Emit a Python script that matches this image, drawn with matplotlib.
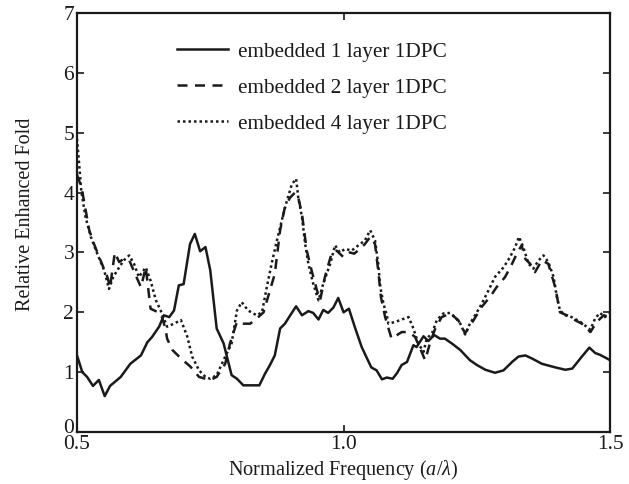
import matplotlib
matplotlib.use("Agg")
import matplotlib.pyplot as plt
import matplotlib.transforms as mtransforms

plt.rcParams["font.family"] = ["Liberation Serif", "DejaVu Serif"]
plt.rcParams["mathtext.fontset"] = "custom"
plt.rcParams["mathtext.it"] = "Liberation Serif:italic"
plt.rcParams["mathtext.rm"] = "Liberation Serif"

# ── data ──────────────────────────────────────────────────────────
freq_1 = [0.500, 0.510, 0.519, 0.530, 0.541, 0.552, 0.562, 0.582, 0.591, 0.600,
          0.620, 0.632, 0.641, 0.654, 0.663, 0.673, 0.682, 0.691, 0.700, 0.712,
          0.721, 0.731, 0.741, 0.750, 0.762, 0.775, 0.790, 0.800, 0.812, 0.842,
          0.853, 0.862, 0.871, 0.881, 0.890, 0.900, 0.911, 0.922, 0.934, 0.943,
          0.953, 0.962, 0.971, 0.981, 0.990, 1.000, 1.010, 1.022, 1.034, 1.044,
          1.052, 1.062, 1.072, 1.081, 1.092, 1.100, 1.109, 1.119, 1.131, 1.137,
          1.150, 1.159, 1.170, 1.181, 1.190, 1.203, 1.219, 1.237, 1.250, 1.266,
          1.284, 1.300, 1.316, 1.328, 1.341, 1.353, 1.372, 1.397, 1.416, 1.429,
          1.447, 1.461, 1.472, 1.481, 1.500]
fold_1 = [1.28, 1.00, 0.92, 0.77, 0.87, 0.60, 0.77, 0.92, 1.03, 1.14,
          1.28, 1.50, 1.59, 1.76, 1.95, 1.92, 2.03, 2.45, 2.47, 3.14,
          3.31, 3.02, 3.09, 2.70, 1.73, 1.48, 0.95, 0.89, 0.78, 0.78,
          0.98, 1.12, 1.28, 1.73, 1.81, 1.95, 2.10, 1.95, 2.02, 1.99,
          1.88, 2.04, 1.99, 2.08, 2.24, 2.00, 2.06, 1.73, 1.42, 1.23,
          1.08, 1.03, 0.88, 0.91, 0.89, 0.98, 1.12, 1.17, 1.45, 1.42,
          1.60, 1.52, 1.62, 1.56, 1.56, 1.48, 1.37, 1.20, 1.12, 1.04,
          0.99, 1.03, 1.17, 1.26, 1.28, 1.23, 1.14, 1.08, 1.04, 1.06,
          1.26, 1.41, 1.32, 1.29, 1.20]

freq_2 = [0.500, 0.508, 0.513, 0.523, 0.532, 0.544, 0.557, 0.562, 0.571, 0.579,
          0.587, 0.598, 0.610, 0.620, 0.629, 0.638, 0.657, 0.666, 0.669, 0.679,
          0.695, 0.713, 0.729, 0.741, 0.750, 0.762, 0.778, 0.787, 0.800, 0.812,
          0.825, 0.840, 0.850, 0.862, 0.871, 0.881, 0.890, 0.900, 0.909, 0.915,
          0.922, 0.931, 0.940, 0.950, 0.956, 0.965, 0.978, 0.987, 1.000, 1.012,
          1.020, 1.031, 1.040, 1.050, 1.059, 1.065, 1.070, 1.078, 1.090, 1.109,
          1.122, 1.134, 1.144, 1.153, 1.162, 1.172, 1.184, 1.200, 1.215, 1.228,
          1.244, 1.259, 1.275, 1.287, 1.303, 1.316, 1.325, 1.334, 1.341, 1.350,
          1.359, 1.372, 1.384, 1.397, 1.406, 1.419, 1.434, 1.447, 1.463, 1.475,
          1.488, 1.500]
fold_2 = [4.30, 4.10, 3.87, 3.37, 3.14, 2.87, 2.59, 2.42, 3.00, 2.84,
          2.89, 2.87, 2.62, 2.42, 2.75, 2.06, 1.98, 1.73, 1.56, 1.37,
          1.23, 1.09, 0.92, 0.89, 0.87, 0.92, 1.14, 1.48, 1.84, 1.81,
          1.81, 1.92, 2.00, 2.37, 2.64, 3.37, 3.76, 3.92, 4.00, 3.92,
          3.64, 3.03, 2.70, 2.37, 2.20, 2.59, 3.00, 3.03, 2.92, 3.00,
          2.98, 3.06, 3.14, 3.26, 3.14, 2.70, 2.26, 1.92, 1.56, 1.67,
          1.67, 1.59, 1.39, 1.20, 1.48, 1.73, 1.92, 1.98, 1.87, 1.65,
          1.87, 2.09, 2.26, 2.42, 2.59, 2.81, 2.98, 3.12, 2.89, 2.81,
          2.67, 2.87, 2.81, 2.42, 2.00, 1.95, 1.87, 1.81, 1.67, 1.84,
          1.95, 1.92]

freq_4 = [0.500, 0.504, 0.508, 0.516, 0.526, 0.538, 0.551, 0.560, 0.568, 0.579,
          0.588, 0.598, 0.607, 0.616, 0.629, 0.638, 0.648, 0.657, 0.669, 0.682,
          0.695, 0.707, 0.716, 0.729, 0.741, 0.750, 0.762, 0.778, 0.790, 0.800,
          0.809, 0.821, 0.837, 0.847, 0.856, 0.865, 0.875, 0.884, 0.893, 0.903,
          0.911, 0.915, 0.922, 0.928, 0.934, 0.943, 0.953, 0.962, 0.975, 0.984,
          0.993, 1.003, 1.015, 1.028, 1.040, 1.050, 1.059, 1.065, 1.069, 1.075,
          1.081, 1.084, 1.097, 1.109, 1.122, 1.131, 1.140, 1.150, 1.156, 1.166,
          1.175, 1.187, 1.200, 1.209, 1.219, 1.228, 1.237, 1.250, 1.259, 1.272,
          1.284, 1.300, 1.312, 1.322, 1.329, 1.337, 1.347, 1.356, 1.366, 1.375,
          1.384, 1.394, 1.400, 1.406, 1.416, 1.428, 1.444, 1.463, 1.472, 1.481,
          1.490, 1.500]
fold_4 = [4.90, 4.48, 4.03, 3.59, 3.26, 2.98, 2.70, 2.39, 2.59, 2.75,
          2.87, 2.95, 2.81, 2.59, 2.75, 2.53, 2.20, 2.03, 1.76, 1.81,
          1.87, 1.59, 1.26, 1.03, 0.92, 0.89, 0.95, 1.26, 1.48, 2.03,
          2.17, 2.03, 1.95, 2.00, 2.42, 2.81, 3.20, 3.53, 3.84, 4.14,
          4.23, 3.92, 3.59, 3.14, 2.81, 2.48, 2.20, 2.48, 2.81, 3.12,
          3.00, 3.06, 3.03, 3.12, 3.20, 3.37, 3.20, 2.81, 2.42, 2.14,
          1.95, 1.81, 1.84, 1.88, 1.92, 1.73, 1.48, 1.34, 1.56, 1.65,
          1.87, 1.98, 1.99, 1.92, 1.81, 1.63, 1.81, 2.00, 2.14, 2.37,
          2.59, 2.75, 2.92, 3.09, 3.26, 3.09, 2.81, 2.73, 2.87, 2.95,
          2.84, 2.59, 2.26, 2.03, 1.95, 1.92, 1.84, 1.71, 1.90, 1.99,
          1.92, 1.98]

labels = ["embedded 1 layer 1DPC", "embedded 2 layer 1DPC", "embedded 4 layer 1DPC"]

# ── figure ─────────────────────────────────────────────────────────
INK = "#1a1a1a"
fig = plt.figure(figsize=(6.29, 4.84), dpi=100)
ax = fig.add_axes([0.1224, 0.1074, 0.8476, 0.8657])

LW = 1.8
ax.plot(freq_1, fold_1, color=INK, lw=LW, ls="-", label=labels[0])
ax.plot(freq_2, fold_2, color=INK, lw=LW, ls=(0, (4.0, 3.0)), label=labels[1])
ax.plot(freq_4, fold_4, color=INK, lw=LW, ls=(0, (1.0, 1.2)), label=labels[2])

ax.set_xlim(0.5, 1.5)
ax.set_ylim(0, 7)
ax.set_xticks([0.5, 1.0, 1.5])
ax.set_xticklabels(["0.5", "1.0", "1.5"])
ax.set_yticks(range(8))

ax.tick_params(direction="in", top=True, right=True, length=5, width=1.2,
               labelsize=15.5, pad=2, colors=INK)
ax.tick_params(axis="x", pad=2)
for sp in ax.spines.values():
    sp.set_linewidth(1.6)
    sp.set_color(INK)

# the "0" on y sits just above the "0.5" on x, as in the original
zero_lbl = ax.get_yticklabels()[0]
zero_lbl.set_transform(zero_lbl.get_transform() +
                       mtransforms.ScaledTranslation(0, 4 / 72, fig.dpi_scale_trans))

ax.set_xlabel(r"Normalized Frequency ($a/\lambda$)", fontsize=14.6, labelpad=3,
              color=INK)
ax.set_ylabel("Relative Enhanced Fold", fontsize=14.5, color=INK)
ax.yaxis.set_label_coords(-0.079, 0.52)

ax.legend(loc="upper left", bbox_to_anchor=(0.152, 0.977), frameon=False,
          fontsize=15.3, handlelength=2.4, handletextpad=0.45,
          labelspacing=0.76, labelcolor=INK)

plt.savefig("out.png", dpi=100)
plt.close(fig)
